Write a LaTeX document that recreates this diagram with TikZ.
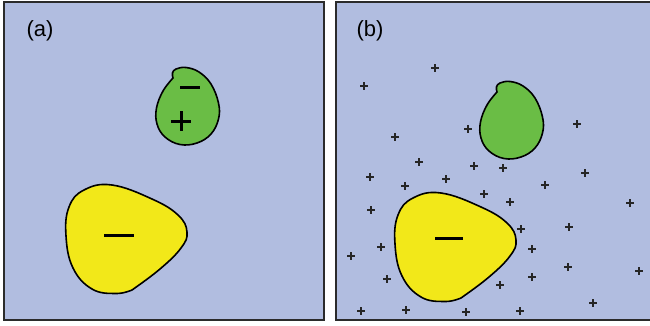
\documentclass[tikz,border=0pt]{standalone}
\usepackage{fontspec}
\setmainfont{Liberation Sans}

\definecolor{cellbg}{HTML}{B1BDE0}
\definecolor{bigion}{HTML}{F2E819}
\definecolor{smallion}{HTML}{6ABD45}
\definecolor{framegray}{HTML}{2B2B2B}

\begin{document}
\begin{tikzpicture}[
    x=1pt, y=-1pt,
    % Styles
    panel/.style={fill=cellbg, draw=framegray, line width=2pt},
    yellowblob/.style={fill=bigion, draw=black, line width=1.6pt},
    greenblob/.style={fill=smallion, draw=black, line width=1.6pt},
    tag/.style={font=\fontsize{22}{26}\selectfont, inner sep=0pt},
    charge/.style={draw=black, line width=3pt},
    counterion/.style={draw=black!85, line width=1.1pt}
    ]
    \useasboundingbox (0,0) rectangle (650,325);

    % (a) panel
    \draw[panel] (4,2) rectangle (324,320);
    \node (taga) [tag] at (40,31) {(a)};

    % (b) panel, open on the right
    \fill[cellbg] (336,2) rectangle (650,320);
    \draw[framegray, line width=2pt] (652,2) -- (336,2) -- (336,320) -- (652,320);
    \node (tagb) [tag] at (370,31) {(b)};

    % Large ion, in (a) and in (b)
    \foreach \dx/\dy in {0/0, 329/8} {
        \draw[yellowblob, shift={(\dx,\dy)}] plot[smooth, tension=0.7] coordinates {
            (132,290) (160,269) (181,248) (187,232) (178,215) (152,199)
            (112,185) (84,190) (69,207) (66,236) (73,268) (92,289)
            (116,293.5) (132,290)} -- cycle;
    }

    % Small ion, in (a) and in (b)
    \foreach \dx/\dy in {0/0, 324/14} {
        \draw[greenblob, shift={(\dx,\dy)}] plot[smooth, tension=0.65] coordinates {
            (173,78) (163,91) (156.5,108) (157,124) (165,137) (180,144.5)
            (197,143) (211,134) (218.5,119) (218.5,103) (211,84) (199,72)
            (186,67.5) (176,69) (172.5,73) (173,78)} -- cycle;
    }

    % Charges
    \draw[charge] (104,235) -- (134,235);
    \draw[charge] (180,87) -- (200,87);
    \draw[charge] (171,121) -- (191,121);
    \draw[charge] (181,111) -- (181,131);
    \draw[charge] (435,238) -- (463,238);

    % Counterions spread in (b)
    \foreach \px/\py in {435/68, 364/86, 468/129, 577/124, 395/137, 419/162,
        474/166, 503/168, 585/173, 370/177, 405/186, 446/179, 545/185,
        484/194, 510/202, 371/210, 630/203, 521/229, 569/227, 381/247,
        532/249, 351/256, 568/267, 639/271, 387/279, 532/277, 500/285,
        593/303, 361/311, 406/310, 466/312, 520/311} {
        \draw[counterion] (\px-4,\py) -- (\px+4,\py);
        \draw[counterion] (\px,\py-4) -- (\px,\py+4);
    }
\end{tikzpicture}
\end{document}
